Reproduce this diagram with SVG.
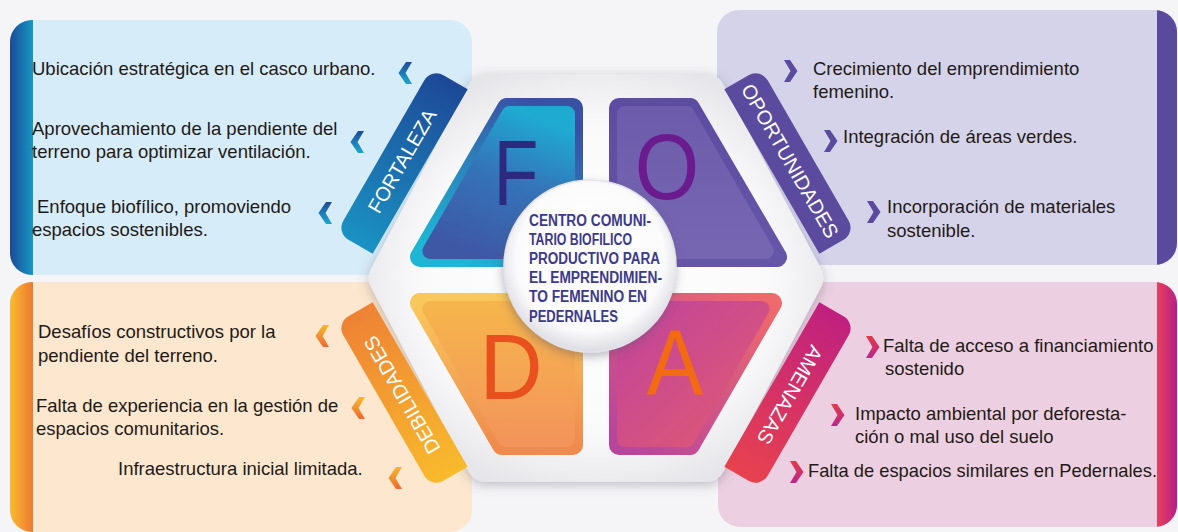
<svg xmlns="http://www.w3.org/2000/svg" width="1178" height="532" viewBox="0 0 1178 532">
<style>
.body{font-family:"Liberation Sans",Arial,sans-serif;font-size:18.5px;fill:#1f1a17}
.rib{font-family:"Liberation Sans",Arial,sans-serif;font-size:20px;fill:#ffffff;text-anchor:middle}
.big{font-family:"Liberation Sans",Arial,sans-serif;font-size:92px;text-anchor:middle}
.ctr{font-family:"Liberation Sans Narrow","Liberation Sans",Arial,sans-serif;font-size:16px;font-weight:700;fill:#3d3a8a}
.rnd{stroke-linejoin:round}
</style>
<defs>
<filter id="sh" x="-20%" y="-20%" width="140%" height="140%"><feDropShadow dx="0" dy="3" stdDeviation="6" flood-color="#55556a" flood-opacity="0.35"/></filter>
<filter id="sh2" x="-20%" y="-20%" width="140%" height="140%"><feDropShadow dx="-1" dy="4" stdDeviation="5" flood-color="#55556a" flood-opacity="0.4"/></filter>
<linearGradient id="stripF" x1="0" y1="0" x2="1" y2="0"><stop offset="0" stop-color="#1c4a98"/><stop offset="1" stop-color="#1598c4"/></linearGradient>
<linearGradient id="stripD" x1="0" y1="0" x2="1" y2="0"><stop offset="0" stop-color="#f8bb30"/><stop offset="1" stop-color="#ee7b31"/></linearGradient>
<linearGradient id="stripA" x1="0" y1="0" x2="1" y2="0"><stop offset="0" stop-color="#e8405a"/><stop offset="1" stop-color="#b61f8a"/></linearGradient>
<radialGradient id="hexG" cx="0.5" cy="0.5" r="0.6"><stop offset="0" stop-color="#ffffff"/><stop offset="0.7" stop-color="#fafafb"/><stop offset="1" stop-color="#e6e6ea"/></radialGradient>
<radialGradient id="cirG" cx="0.5" cy="0.45" r="0.55"><stop offset="0" stop-color="#ffffff"/><stop offset="0.78" stop-color="#fbfbfc"/><stop offset="1" stop-color="#dcdce3"/></radialGradient>
<linearGradient id="fOut" x1="0.8" y1="0" x2="0.2" y2="1"><stop offset="0" stop-color="#3a50a2"/><stop offset="1" stop-color="#1db6d5"/></linearGradient>
<linearGradient id="fIn" x1="0.7" y1="0" x2="0.3" y2="1"><stop offset="0" stop-color="#1faad2"/><stop offset="0.45" stop-color="#3474b9"/><stop offset="1" stop-color="#3e58a6"/></linearGradient>
<linearGradient id="oOut" x1="0" y1="0" x2="0" y2="1"><stop offset="0" stop-color="#5d4da2"/><stop offset="1" stop-color="#6656a8"/></linearGradient>
<linearGradient id="oIn" x1="0" y1="0" x2="0" y2="1"><stop offset="0" stop-color="#6c5cab"/><stop offset="1" stop-color="#7666b2"/></linearGradient>
<linearGradient id="dOut" x1="0" y1="0" x2="0" y2="1"><stop offset="0" stop-color="#f9c85c"/><stop offset="1" stop-color="#ef8b4d"/></linearGradient>
<linearGradient id="dIn" x1="0" y1="0" x2="0" y2="1"><stop offset="0" stop-color="#f6b44c"/><stop offset="1" stop-color="#f3955a"/></linearGradient>
<linearGradient id="aOut" x1="0" y1="1" x2="1" y2="0"><stop offset="0" stop-color="#b8449c"/><stop offset="1" stop-color="#ee6a6c"/></linearGradient>
<linearGradient id="aIn" x1="0" y1="0" x2="1" y2="1"><stop offset="0" stop-color="#c2449a"/><stop offset="1" stop-color="#e05a72"/></linearGradient>
<linearGradient id="rF" gradientUnits="userSpaceOnUse" x1="-95" y1="0" x2="95" y2="0"><stop offset="0" stop-color="#1a92c3"/><stop offset="1" stop-color="#1d4897"/></linearGradient>
<linearGradient id="rD" gradientUnits="userSpaceOnUse" x1="-95" y1="0" x2="95" y2="0"><stop offset="0" stop-color="#f8bb2c"/><stop offset="1" stop-color="#ee8234"/></linearGradient>
<linearGradient id="rA" gradientUnits="userSpaceOnUse" x1="-95" y1="0" x2="95" y2="0"><stop offset="0" stop-color="#c0207f"/><stop offset="1" stop-color="#e8424f"/></linearGradient>
<linearGradient id="cvF" x1="0" y1="0" x2="0" y2="1"><stop offset="0" stop-color="#1d4c9a"/><stop offset="1" stop-color="#1ba8cf"/></linearGradient>
<linearGradient id="cvD" x1="0" y1="0" x2="0" y2="1"><stop offset="0" stop-color="#f8b82c"/><stop offset="1" stop-color="#ec6a2e"/></linearGradient>
<linearGradient id="cvA" x1="0" y1="0" x2="0" y2="1"><stop offset="0" stop-color="#e23a48"/><stop offset="1" stop-color="#bc268c"/></linearGradient>
<path id="cl" d="M1,-11 L7,-11 L0.5,0 L7,11 L1,11 L-6.5,0 Z"/>
<path id="cr" d="M-1,-11 L-7,-11 L-0.5,0 L-7,11 L-1,11 L6.5,0 Z"/>
<path id="rib" d="M-81,-21 L81,-21 A14,14 0 0 1 95,-7 L95,21 L-95,21 L-95,-7 A14,14 0 0 1 -81,-21 Z"/>
<clipPath id="cpF"><rect x="10" y="20" width="462" height="255" rx="22"/></clipPath>
<clipPath id="cpO"><rect x="717" y="10" width="460" height="255" rx="22"/></clipPath>
<clipPath id="cpD"><rect x="10" y="282" width="462" height="250" rx="22"/></clipPath>
<clipPath id="cpA"><rect x="718" y="282" width="459" height="245" rx="22"/></clipPath>
</defs>
<rect x="0" y="0" width="1178" height="532" fill="#f5f5f7"/>

<g id="panel-fortaleza">
<rect x="10" y="20" width="462" height="255" rx="22" fill="#d6ecf8"/>
<rect x="10" y="20" width="23" height="255" fill="url(#stripF)" clip-path="url(#cpF)"/>
<text class="body" x="32" y="75">Ubicación estratégica en el casco urbano.</text>
<text class="body" x="32" y="135">Aprovechamiento de la pendiente del</text>
<text class="body" x="32" y="158">terreno para optimizar ventilación.</text>
<text class="body" x="37" y="213">Enfoque biofílico, promoviendo</text>
<text class="body" x="32" y="236">espacios sostenibles.</text>
<use href="#cl" x="405" y="73" fill="url(#cvF)"/>
<use href="#cl" x="357" y="142" fill="url(#cvF)"/>
<use href="#cl" x="325" y="213" fill="url(#cvF)"/>
</g>

<g id="panel-oportunidades">
<rect x="717" y="10" width="460" height="255" rx="22" fill="#d5d3ea"/>
<rect x="1157" y="10" width="20" height="255" fill="#5a4a9e" clip-path="url(#cpO)"/>
<use href="#cr" x="791" y="71" fill="#5b4b9f"/>
<text class="body" x="813" y="75">Crecimiento del emprendimiento</text>
<text class="body" x="813" y="98">femenino.</text>
<use href="#cr" x="831" y="141" fill="#5b4b9f"/>
<text class="body" x="843" y="143">Integración de áreas verdes.</text>
<use href="#cr" x="874" y="212" fill="#5b4b9f"/>
<text class="body" x="887" y="213">Incorporación de materiales</text>
<text class="body" x="887" y="237">sostenible.</text>
</g>

<g id="panel-debilidades">
<rect x="10" y="282" width="462" height="250" rx="22" fill="#fde7ce"/>
<rect x="10" y="282" width="23" height="250" fill="url(#stripD)" clip-path="url(#cpD)"/>
<text class="body" x="38" y="338">Desafíos constructivos por la</text>
<text class="body" x="38" y="362">pendiente del terreno.</text>
<text class="body" x="36" y="412">Falta de experiencia en la gestión de</text>
<text class="body" x="36" y="435">espacios comunitarios.</text>
<text class="body" x="118" y="475">Infraestructura inicial limitada.</text>
<use href="#cl" x="322" y="336" fill="url(#cvD)"/>
<use href="#cl" x="358" y="408" fill="url(#cvD)"/>
<use href="#cl" x="395" y="478" fill="url(#cvD)"/>
</g>

<g id="panel-amenazas">
<rect x="718" y="282" width="459" height="245" rx="22" fill="#ecd0e1"/>
<rect x="1157" y="282" width="20" height="245" fill="url(#stripA)" clip-path="url(#cpA)"/>
<use href="#cr" x="873" y="347" fill="url(#cvA)"/>
<text class="body" x="883" y="352">Falta de acceso a financiamiento</text>
<text class="body" x="885" y="375">sostenido</text>
<use href="#cr" x="838" y="415" fill="url(#cvA)"/>
<text class="body" x="855" y="420">Impacto ambiental por deforesta-</text>
<text class="body" x="855" y="443">ción o mal uso del suelo</text>
<use href="#cr" x="797" y="472" fill="url(#cvA)"/>
<text class="body" x="808" y="477" textLength="349" lengthAdjust="spacingAndGlyphs">Falta de espacios similares en Pedernales.</text>
</g>

<g id="hexagon">
<polygon class="rnd" points="388.6,278 486,94 706,94 803.4,278 706,462 486,462" fill="url(#hexG)" stroke="url(#hexG)" stroke-width="40" filter="url(#sh)"/>
</g>

<g id="quadrant-f">
<polygon class="rnd" points="507,108 573,108 573,257 420,257" fill="url(#fOut)" stroke="url(#fOut)" stroke-width="20"/>
<polygon class="rnd" points="509.5,114 567,114 567,251 430.4,251" fill="url(#fIn)" stroke="url(#fIn)" stroke-width="16"/>
<text class="big" transform="translate(516,205) scale(0.8,1)" fill="#2c2a7f">F</text>
</g>
<g id="quadrant-o">
<polygon class="rnd" points="619,108 690,108 777,257 619,257" fill="url(#oOut)" stroke="url(#oOut)" stroke-width="20"/>
<polygon class="rnd" points="625,114 686.6,114 765.7,251 625,251" fill="url(#oIn)" stroke="url(#oIn)" stroke-width="16"/>
<text class="big" transform="translate(667,199) scale(0.9,1)" fill="#6a1b8e">O</text>
</g>
<g id="quadrant-d">
<polygon class="rnd" points="420,303 573,303 573,445 502,445" fill="url(#dOut)" stroke="url(#dOut)" stroke-width="20"/>
<polygon class="rnd" points="430.4,309 567,309 567,439 505.4,439" fill="url(#dIn)" stroke="url(#dIn)" stroke-width="16"/>
<text class="big" transform="translate(511,399) scale(0.95,1)" fill="#e8501e">D</text>
</g>
<g id="quadrant-a">
<polygon class="rnd" points="619,303 772,303 690,445 619,445" fill="url(#aOut)" stroke="url(#aOut)" stroke-width="20"/>
<polygon class="rnd" points="625,309 761.6,309 686.6,439 625,439" fill="url(#aIn)" stroke="url(#aIn)" stroke-width="16"/>
<text class="big" transform="translate(675,395) scale(0.92,1)" fill="#f26a12">A</text>
</g>

<g id="ribbon-fortaleza" transform="translate(402,161) rotate(-60)">
<use href="#rib" fill="url(#rF)"/>
<text class="rib" x="0" y="7">FORTALEZA</text>
</g>
<g id="ribbon-oportunidades" transform="translate(790,161) rotate(60)">
<use href="#rib" fill="#5b4b9f"/>
<text class="rib" x="0" y="7">OPORTUNIDADES</text>
</g>
<g id="ribbon-debilidades" transform="translate(402,395) rotate(-120)">
<use href="#rib" fill="url(#rD)"/>
<text class="rib" x="0" y="7">DEBILIDADES</text>
</g>
<g id="ribbon-amenazas" transform="translate(790,395) rotate(120)">
<use href="#rib" fill="url(#rA)"/>
<text class="rib" x="0" y="7">AMENAZAS</text>
</g>

<g id="center">
<circle cx="590" cy="266" r="86" fill="url(#cirG)" stroke="#e2e2e8" stroke-width="1.5" filter="url(#sh2)"/>
<text class="ctr" x="529" y="226" textLength="122" lengthAdjust="spacingAndGlyphs">CENTRO COMUNI-</text>
<text class="ctr" x="529" y="245" textLength="103" lengthAdjust="spacingAndGlyphs">TARIO BIOFILICO</text>
<text class="ctr" x="529" y="264" textLength="131" lengthAdjust="spacingAndGlyphs">PRODUCTIVO PARA</text>
<text class="ctr" x="529" y="283" textLength="133" lengthAdjust="spacingAndGlyphs">EL EMPRENDIMIEN-</text>
<text class="ctr" x="529" y="302" textLength="118" lengthAdjust="spacingAndGlyphs">TO FEMENINO EN</text>
<text class="ctr" x="529" y="322" textLength="89" lengthAdjust="spacingAndGlyphs">PEDERNALES</text>
</g>
<g id="connectors"/>
</svg>
